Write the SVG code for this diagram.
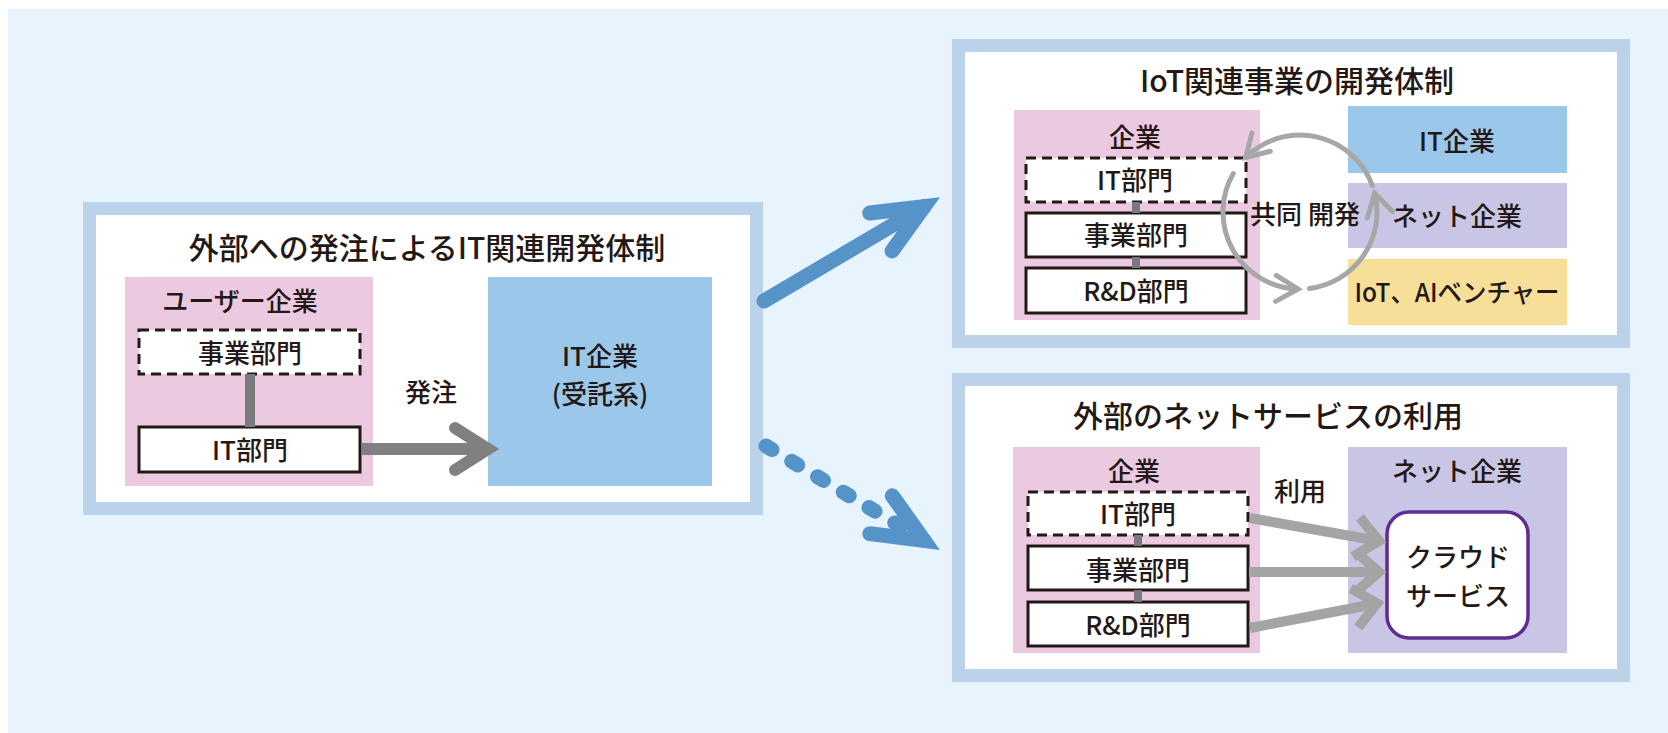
<svg xmlns="http://www.w3.org/2000/svg" width="1668" height="733" viewBox="0 0 1668 733">
<style>
text{font-family:"Noto Sans CJK JP","Noto Sans",sans-serif;fill:#231815;text-anchor:middle;font-weight:500}
.title{font-size:30px}
.lbl{font-size:26px}
.panel{fill:#fff;stroke:#bad3ea;stroke-width:13}
.pink{fill:#ebc9e1}
.blue{fill:#9bc7ea}
.purple{fill:#c8c6e4}
.yellow{fill:#f7df9a}
.dbox{fill:#fff;stroke:#231815;stroke-width:3;stroke-dasharray:10 6}
.sbox{fill:#fff;stroke:#231815;stroke-width:3}
.vlink{stroke:#7a7a7a;fill:none}
.order{stroke:#808080;stroke-width:12;fill:none}
.use{stroke:#a3a5a5;stroke-width:10;fill:none}
.cyc{stroke:#a7a7a7;stroke-width:5;fill:none;stroke-linecap:round}
.big{stroke:#5593c8;stroke-width:15;fill:none;stroke-linecap:round}
</style>
<defs>
<marker id="mOrder" markerUnits="userSpaceOnUse" orient="auto" refX="0" refY="0" markerWidth="1" markerHeight="1" overflow="visible">
<path d="M-33,-21 L0,0 L-33,21" fill="none" stroke="#808080" stroke-width="12" stroke-linecap="round" stroke-linejoin="miter"/>
</marker>
<marker id="mUse" markerUnits="userSpaceOnUse" orient="auto" refX="0" refY="0" markerWidth="1" markerHeight="1" overflow="visible">
<path d="M-23,-20 L0,0 L-23,20" fill="none" stroke="#a3a5a5" stroke-width="10" stroke-linecap="butt" stroke-linejoin="miter"/>
</marker>
<marker id="mCyc" markerUnits="userSpaceOnUse" orient="auto" refX="0" refY="0" markerWidth="1" markerHeight="1" overflow="visible">
<path d="M-22,-13 L0,0 L-22,13" fill="none" stroke="#a7a7a7" stroke-width="5" stroke-linecap="round" stroke-linejoin="miter"/>
</marker>
<marker id="mBig" markerUnits="userSpaceOnUse" orient="auto" refX="0" refY="0" markerWidth="1" markerHeight="1" overflow="visible">
<path d="M-50,-22 L0,0 L-50,22" fill="none" stroke="#5593c8" stroke-width="15" stroke-linecap="round" stroke-linejoin="miter"/>
</marker>
</defs>
<rect x="8" y="9" width="1660" height="724" fill="#e8f4fd"/>

<g id="panel-outsourcing">
<rect class="panel" x="89.5" y="208.5" width="667" height="300"/>
<text class="title" x="427" y="259">外部への発注によるIT関連開発体制</text>
</g>
<g id="user-company">
<rect class="pink" x="125" y="277" width="248" height="209"/>
<text class="lbl" x="240" y="311">ユーザー企業</text>
</g>
<g id="user-biz-dept">
<rect class="dbox" x="139" y="330" width="221" height="44"/>
<text class="lbl" x="250" y="363">事業部門</text>
</g>
<g id="user-it-dept">
<rect class="sbox" x="139" y="427" width="221" height="45"/>
<text class="lbl" x="250" y="460">IT部門</text>
</g>
<g id="it-company-contract">
<rect class="blue" x="488" y="277" width="224" height="209"/>
<text class="lbl" x="600" y="366">IT企業</text>
<text class="lbl" x="600" y="404">(受託系)</text>
</g>
<g id="label-order">
<text class="lbl" x="431" y="402">発注</text>
</g>

<g id="panel-iot">
<rect class="panel" x="958.5" y="45.5" width="665" height="296"/>
<text class="title" x="1297" y="92">IoT関連事業の開発体制</text>
</g>
<g id="iot-company">
<rect class="pink" x="1014" y="110" width="246" height="210"/>
<text class="lbl" x="1135" y="147">企業</text>
</g>
<g id="iot-it-dept">
<rect class="dbox" x="1026" y="158" width="220" height="44"/>
<text class="lbl" x="1135" y="190">IT部門</text>
</g>
<g id="iot-biz-dept">
<rect class="sbox" x="1026" y="213" width="220" height="44"/>
<text class="lbl" x="1136" y="245">事業部門</text>
</g>
<g id="iot-rd-dept">
<rect class="sbox" x="1026" y="268" width="220" height="45"/>
<text class="lbl" x="1136" y="301">R&amp;D部門</text>
</g>
<g id="iot-it-company">
<rect class="blue" x="1348" y="106" width="219" height="67"/>
<text class="lbl" x="1457" y="151">IT企業</text>
</g>
<g id="iot-net-company">
<rect class="purple" x="1348" y="183" width="219" height="65"/>
<text class="lbl" x="1457" y="226">ネット企業</text>
</g>
<g id="iot-venture">
<rect class="yellow" x="1348" y="259" width="219" height="66"/>
<text class="lbl" x="1457" y="302" textLength="205" lengthAdjust="spacingAndGlyphs">IoT、AIベンチャー</text>
</g>
<g id="label-codev">
<text class="lbl" x="1305" y="224">共同 開発</text>
</g>

<g id="panel-net">
<rect class="panel" x="958.5" y="379.5" width="665" height="296"/>
<text class="title" x="1268" y="427">外部のネットサービスの利用</text>
</g>
<g id="net-user-company">
<rect class="pink" x="1013" y="447" width="247" height="206"/>
<text class="lbl" x="1134" y="481">企業</text>
</g>
<g id="net-it-dept">
<rect class="dbox" x="1028" y="492" width="220" height="43"/>
<text class="lbl" x="1138" y="524">IT部門</text>
</g>
<g id="net-biz-dept">
<rect class="sbox" x="1028" y="546" width="220" height="44"/>
<text class="lbl" x="1138" y="580">事業部門</text>
</g>
<g id="net-rd-dept">
<rect class="sbox" x="1028" y="602" width="220" height="44"/>
<text class="lbl" x="1138" y="635">R&amp;D部門</text>
</g>
<g id="net-company">
<rect class="purple" x="1348" y="447" width="219" height="206"/>
<text class="lbl" x="1457" y="481">ネット企業</text>
</g>
<g id="cloud-service">
<rect x="1387" y="512" width="141" height="126" rx="22" fill="#fff" stroke="#5e2d91" stroke-width="3.5"/>
<text class="lbl" x="1458" y="567">クラウド</text>
<text class="lbl" x="1458" y="606">サービス</text>
</g>
<g id="label-use">
<text class="lbl" x="1300" y="501">利用</text>
</g>

<g id="connectors">
<line class="vlink" x1="250" y1="374" x2="250" y2="427" stroke-width="10"/>
<line class="vlink" x1="1136" y1="202" x2="1136" y2="213" stroke-width="8"/>
<line class="vlink" x1="1136" y1="257" x2="1136" y2="268" stroke-width="8"/>
<line class="vlink" x1="1138" y1="535" x2="1138" y2="546" stroke-width="8"/>
<line class="vlink" x1="1138" y1="590" x2="1138" y2="602" stroke-width="8"/>
<path class="order" d="M362,449 L488,449" marker-end="url(#mOrder)"/>
<path class="big" d="M764,301 L924,206.6" marker-end="url(#mBig)"/>
<path class="big" d="M766,446 L924,540.4" stroke-dasharray="7 23" marker-end="url(#mBig)"/>
<path class="cyc" d="M1372.4,185.7 A77,77 0 0 0 1245.6,157.6" marker-end="url(#mCyc)"/>
<path class="cyc" d="M1233.3,173.5 A77,77 0 0 0 1298,289" marker-end="url(#mCyc)"/>
<path class="cyc" d="M1309.4,288.4 A77,77 0 0 0 1374.7,193.4" marker-end="url(#mCyc)"/>
<path class="use" d="M1250,518 L1379,541" marker-end="url(#mUse)"/>
<path class="use" d="M1249,572 L1379,572" marker-end="url(#mUse)"/>
<path class="use" d="M1250,628 L1377,603.5" marker-end="url(#mUse)"/>
</g>
</svg>
